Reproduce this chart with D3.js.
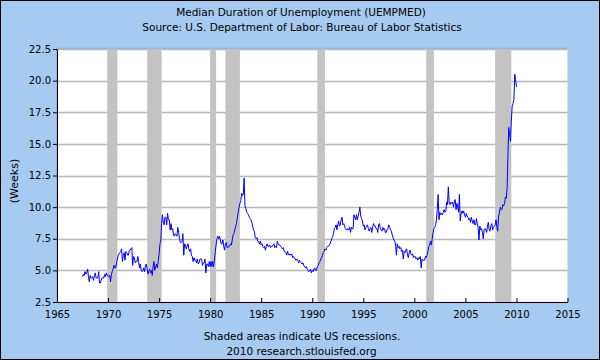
<!DOCTYPE html>
<html>
<head>
<meta charset="utf-8">
<script src="https://cdn.jsdelivr.net/npm/d3@7"></script>
<style>
  body { margin: 0; background: #fff; }
  text { font-family: "DejaVu Sans", Verdana, sans-serif; }
</style>
</head>
<body>
<div id="chart"></div>
<script>

// ---- DATA ----
// median duration of unemployment, weeks, monthly
// first value of each array is the month in its start date
let weeks1967 = [ // Jul 1967 - Dec 1969
  4.5, 4.7, 4.6, 4.9, 4.7, 4.8,
  5.1, 4.5, 4.1, 4.6, 4.4, 4.4, 4.5, 4.2, 4.6, 4.8, 4.4, 4.4,
  4.4, 4.9, 4.0, 4.0, 4.2, 4.4, 4.4, 4.4, 4.7, 4.5, 4.8, 4.6
];
let weeks1970s = [ // Jan 1970 - Dec 1979
  4.6, 4.5, 4.6, 4.1, 4.7, 4.9, 5.1, 5.4, 5.2, 5.2, 5.6, 5.9,
  6.2, 6.3, 6.4, 6.5, 6.7, 5.7, 6.2, 6.4, 5.8, 6.5, 6.4, 6.2,
  6.2, 6.6, 6.6, 6.7, 6.8, 5.4, 6.1, 6.0, 5.6, 5.7, 5.7, 6.1,
  5.7, 5.2, 5.5, 5.0, 4.9, 5.0, 5.2, 4.9, 5.4, 5.5, 5.1, 4.7,
  5.0, 5.1, 4.8, 5.0, 4.6, 5.3, 5.7, 5.0, 5.3, 5.5, 5.2, 5.7,
  6.3, 7.1, 7.2, 8.7, 9.4, 8.8, 8.6, 9.2, 9.2, 8.6, 9.5, 9.0,
  9.0, 8.2, 8.7, 8.2, 8.3, 7.8, 7.7, 7.9, 7.8, 7.7, 8.4, 8.0,
  7.5, 7.2, 7.2, 7.3, 7.9, 6.2, 7.1, 7.0, 6.7, 6.9, 7.1, 6.7,
  6.5, 6.7, 6.2, 6.1, 5.7, 6.0, 5.8, 5.8, 5.6, 5.9, 5.5, 5.6,
  5.9, 5.9, 5.9, 5.4, 5.6, 5.6, 5.9, 4.8, 5.5, 5.5, 5.3, 5.7
];
let weeks1980s = [ // Jan 1980 - Dec 1989
  5.3, 5.7, 5.3, 5.7, 5.3, 5.8, 6.4, 7.0, 7.5, 7.7, 7.5, 7.7,
  7.4, 7.1, 7.1, 7.4, 6.9, 6.6, 7.1, 7.2, 6.8, 6.8, 6.9, 6.9,
  7.1, 7.0, 7.4, 7.8, 7.9, 8.2, 8.5, 8.7, 9.2, 9.6, 10.0, 10.3,
  10.5, 11.1, 10.9, 11.0, 12.3, 10.1, 9.9, 9.6, 9.5, 9.4, 9.2, 9.1,
  9.0, 8.8, 8.5, 8.2, 8.1, 7.6, 7.5, 7.6, 7.3, 7.3, 7.1, 7.3,
  7.0, 7.1, 6.9, 6.8, 6.9, 6.6, 6.9, 7.1, 6.9, 6.9, 7.0, 6.8,
  6.9, 6.9, 7.0, 7.1, 6.8, 6.9, 6.8, 7.3, 7.1, 7.0, 7.0, 6.9,
  6.8, 6.7, 6.8, 6.5, 6.5, 6.4, 6.2, 6.5, 6.3, 6.2, 6.3, 6.2,
  6.3, 6.0, 6.1, 6.0, 5.9, 5.8, 5.9, 5.8, 5.6, 5.8, 5.7, 5.6,
  5.5, 5.6, 5.4, 5.3, 5.2, 5.3, 5.1, 5.0, 4.9, 5.0, 5.1, 4.8
];
let weeks1990s = [ // Jan 1990 - Dec 1999
  5.0, 4.9, 5.1, 5.2, 5.0, 5.0, 5.3, 5.4, 5.6, 5.7, 5.9, 6.0,
  6.2, 6.4, 6.5, 6.7, 6.6, 6.8, 6.9, 6.9, 7.0, 7.1, 7.3, 7.5,
  7.7, 7.9, 8.3, 8.4, 8.6, 8.2, 8.6, 8.9, 8.5, 8.6, 9.0, 9.2,
  8.6, 8.7, 8.5, 8.3, 8.2, 8.2, 8.3, 8.2, 8.4, 8.0, 8.4, 8.3,
  8.3, 9.4, 9.2, 9.0, 9.4, 9.0, 9.3, 9.6, 10.0, 9.3, 9.1, 8.9,
  8.5, 8.6, 8.2, 8.4, 8.5, 8.6, 8.3, 8.1, 8.3, 8.4, 8.0, 8.4,
  8.7, 8.5, 8.5, 8.3, 8.3, 8.0, 8.6, 8.7, 8.3, 8.2, 8.1, 8.4,
  8.2, 8.3, 8.0, 8.0, 8.2, 8.3, 8.6, 8.4, 8.2, 8.1, 7.8, 7.6,
  7.4, 7.3, 7.0, 6.2, 7.1, 6.8, 6.9, 6.7, 6.8, 6.5, 6.6, 5.9,
  6.5, 6.4, 6.6, 6.7, 6.2, 6.0, 6.4, 6.6, 6.3, 6.2, 6.3, 6.0
];
let weeks2000s = [ // Jan 2000 - Jan 2010
  6.1, 6.1, 5.9, 6.0, 5.8, 6.0, 5.9, 6.1, 5.2, 5.9, 5.8, 5.8,
  5.8, 6.1, 6.0, 6.2, 6.5, 6.9, 7.0, 7.3, 7.0, 7.5, 8.0, 8.3,
  8.4, 8.6, 9.0, 9.8, 11.0, 9.0, 9.6, 9.4, 9.5, 9.4, 9.6, 9.8,
  9.6, 9.7, 10.4, 10.2, 11.6, 10.3, 10.2, 10.4, 10.3, 10.4, 10.0, 10.4,
  10.6, 9.8, 10.3, 10.0, 9.6, 11.0, 8.9, 9.5, 9.7, 9.5, 9.7, 9.4,
  9.2, 9.5, 9.3, 9.2, 9.0, 9.1, 8.8, 9.2, 8.9, 8.7, 9.0, 8.6,
  8.6, 9.1, 8.7, 8.4, 7.4, 8.5, 8.2, 8.3, 8.0, 7.5, 8.2, 8.3,
  8.2, 8.0, 8.5, 8.8, 8.2, 8.1, 8.5, 8.7, 8.2, 8.4, 8.5, 8.6,
  9.0, 8.4, 8.1, 9.3, 9.5, 10.0, 9.8, 9.8, 10.2, 10.1, 10.3, 10.8,
  10.7, 11.5, 14.0, 16.3, 15.8, 15.2, 16.8, 18.0, 18.2, 18.5, 20.5, 20.1,
  19.5
];
let seriesStarts = ["1967-07", "1970-01", "1980-01", "1990-01", "2000-01"];

// NBER recessions, peak month and trough month
let recessionStart = ["1969-12", "1973-11", "1980-01", "1981-07", "1990-07", "2001-03", "2007-12"];
let recessionEnd   = ["1970-11", "1975-03", "1980-07", "1982-11", "1991-03", "2001-11", "2009-06"];

let yTicks = [2.5, 5.0, 7.5, 10.0, 12.5, 15.0, 17.5, 20.0, 22.5];
let xTicks = [1965, 1970, 1975, 1980, 1985, 1990, 1995, 2000, 2005, 2010, 2015];

let titleText = "Median Duration of Unemployment (UEMPMED)";
let subtitleText = "Source: U.S. Department of Labor: Bureau of Labor Statistics";
let yLabel = "(Weeks)";
let noteText = "Shaded areas indicate US recessions.";
let creditText = "2010 research.stlouisfed.org";


// ---- BUILD POINTS ----
let parseMonth = d3.timeParse("%Y-%m");
let blocks = [weeks1967, weeks1970s, weeks1980s, weeks1990s, weeks2000s];
let data = [];
blocks.forEach((arr, b) => {
    let start = parseMonth(seriesStarts[b]);
    arr.forEach((v, i) => data.push({date: d3.timeMonth.offset(start, i), value: v}));
});


// ---- CHART AREA ----
let W = 600, H = 360;
let margin = {top: 49, right: 32.5, bottom: 58, left: 57},
    width = W - margin.left - margin.right,
    height = H - margin.top - margin.bottom;

let svg = d3.select("#chart").append("svg")
    .attr("width", W)
    .attr("height", H);

svg.append("rect")
    .attr("x", 0.5).attr("y", 0.5)
    .attr("width", W - 1).attr("height", H - 1)
    .attr("fill", "#a6caf0")
    .attr("stroke", "#000");

let g = svg.append("g")
    .attr("transform", "translate(" + margin.left + "," + margin.top + ")");

// soft edge above the plot
g.append("rect")
    .attr("x", -1).attr("y", -1.5)
    .attr("width", width + 1).attr("height", height + 1)
    .attr("fill", "#93b7dc");

g.append("rect")
    .attr("width", width).attr("height", height)
    .attr("fill", "#fff");


// ---- SCALES ----
let x = d3.scaleTime()
    .domain([new Date(xTicks[0], 0, 1), new Date(xTicks[xTicks.length - 1], 0, 1)])
    .range([0, width]);

let y = d3.scaleLinear()
    .domain([yTicks[0], yTicks[yTicks.length - 1]])
    .range([height, 0]);


// ---- GRID + RECESSIONS ----
g.selectAll(".grid")
    .data(yTicks)
    .enter().append("line")
    .attr("class", "grid")
    .attr("x1", 0).attr("x2", width)
    .attr("y1", d => Math.round(y(d)) + 0.5)
    .attr("y2", d => Math.round(y(d)) + 0.5)
    .attr("stroke", "#b8b8b8")
    .attr("stroke-width", 1.5);

g.selectAll(".rec")
    .data(recessionStart)
    .enter().append("rect")
    .attr("class", "rec")
    .attr("x", d => x(parseMonth(d)))
    .attr("y", 0)
    .attr("width", (d, i) => x(d3.timeMonth.offset(parseMonth(recessionEnd[i]), 1)) - x(parseMonth(d)))
    .attr("height", height)
    .attr("fill", "#c3c3c3");


// ---- LINE ----
let line = d3.line()
    .x(d => x(d.date))
    .y(d => y(d.value));

g.append("path")
    .datum(data)
    .attr("d", line)
    .attr("fill", "none")
    .attr("stroke", "#0000ff")
    .attr("stroke-width", 1);


// ---- AXES ----
let yAxis = d3.axisLeft(y)
    .tickValues(yTicks)
    .tickFormat(d3.format(".1f"))
    .tickSizeInner(4)
    .tickSizeOuter(0)
    .tickPadding(2);

let xAxis = d3.axisBottom(x)
    .tickValues(xTicks.map(yr => new Date(yr, 0, 1)))
    .tickFormat(d3.timeFormat("%Y"))
    .tickSizeInner(-4)
    .tickSizeOuter(0)
    .tickPadding(9);

let yAxisGroup = g.append("g").call(yAxis);
let xAxisGroup = g.append("g")
    .attr("transform", "translate(0," + height + ")")
    .call(xAxis);

[yAxisGroup, xAxisGroup].forEach(ax => {
    ax.attr("font-family", null).attr("font-size", null);
    ax.selectAll("text").style("font-size", "10px").attr("fill", "#000");
    ax.selectAll("line, path").attr("stroke", "#000");
});


// ---- TEXTS ----
svg.append("text")
    .attr("x", 301).attr("y", 16)
    .attr("text-anchor", "middle")
    .style("font-size", "10.5px")
    .text(titleText);

svg.append("text")
    .attr("x", 302).attr("y", 30.5)
    .attr("text-anchor", "middle")
    .style("font-size", "10.5px")
    .text(subtitleText);

svg.append("text")
    .attr("transform", "translate(18,181) rotate(-90)")
    .attr("text-anchor", "middle")
    .style("font-size", "11px")
    .text(yLabel);

svg.append("text")
    .attr("x", 302).attr("y", 340)
    .attr("text-anchor", "middle")
    .style("font-size", "10.5px")
    .text(noteText);

svg.append("text")
    .attr("x", 301.5).attr("y", 354.5)
    .attr("text-anchor", "middle")
    .style("font-size", "10.5px")
    .text(creditText);

</script>
</body>
</html>
